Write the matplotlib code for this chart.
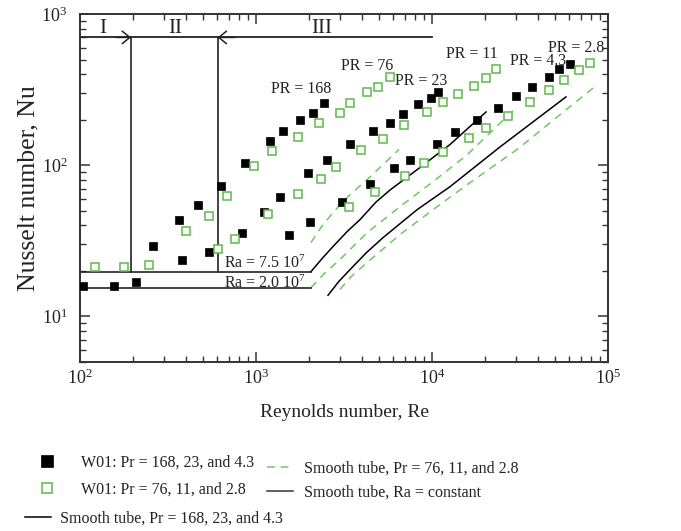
import matplotlib.pyplot as plt
from matplotlib.lines import Line2D

plt.rcParams['font.family'] = ['Liberation Serif', 'DejaVu Serif']
plt.rcParams['mathtext.fontset'] = 'custom'
plt.rcParams['mathtext.rm'] = 'Liberation Serif'
plt.rcParams['mathtext.it'] = 'Liberation Serif:italic'

# W01 measurements, filled squares
re_168 = [104, 156, 208, 260, 365, 468, 633, 866, 1201, 1422, 1778, 2109, 2432]
nu_168 = [15.8, 15.8, 17.0, 29.4, 43.7, 54.9, 73.2, 104, 145, 169, 200, 222, 259]
re_23 = [380, 541, 833, 1110, 1369, 1975, 2532, 3420, 4624, 5768, 6840, 8328, 9863, 10810]
nu_23 = [23.8, 26.5, 35.8, 49.3, 62.0, 89.2, 109, 139, 169, 191, 219, 255, 279, 305]
re_43 = [1540, 2028, 3083, 4446, 6083, 7499, 10670, 13520, 18020, 23710, 29990,
         36990, 46210, 52680, 60810]
nu_43 = [34.8, 42.4, 57.4, 75.5, 96.3, 109, 139, 166, 200, 240, 288, 330, 384, 434, 468]

# W01 measurements, open squares
re_76 = [122, 178, 247, 400, 541, 684, 975, 1233, 1732, 2280, 2999, 3420, 4276, 4933, 5768]
nu_76 = [21.1, 21.1, 22.0, 36.9, 46.4, 62.9, 99.2, 125, 154, 191, 222, 259, 305, 330, 384]
re_11 = [608, 760, 1170, 1732, 2339, 2848, 3951, 5268, 6934, 9368, 11550, 14060,
         17320, 20280, 23100]
nu_11 = [28.1, 32.7, 47.8, 64.8, 81.5, 97.7, 127, 150, 185, 225, 262, 296, 335, 378, 434]
re_28 = [3373, 4745, 7023, 9006, 11550, 16220, 20280, 27040, 36060, 46210, 56230,
         68390, 79120]
nu_28 = [53.2, 66.8, 85.3, 104, 123, 152, 177, 212, 262, 315, 367, 427, 475]

# smooth tube correlations
re_s23 = [2053, 2400, 2738, 3300, 3899, 4800, 5768, 8222, 12650, 20280]
nu_s23 = [19.8, 24.5, 29.0, 36.5, 43.7, 57.0, 68.5, 93.4, 137, 225]
re_s43 = [2565, 2950, 3420, 4250, 5268, 8222, 12650, 24320, 57690]
nu_s43 = [13.8, 17.0, 20.4, 26.5, 33.2, 50.8, 72.1, 132, 283]
re_s76 = [2053, 2350, 2738, 3400, 4276, 6494]
nu_s76 = [30.8, 39.0, 48.6, 63.5, 80.2, 127]
re_s11 = [2053, 2450, 2999, 4276, 6579, 10130, 15810, 30410]
nu_s11 = [15.5, 19.3, 23.8, 35.8, 53.2, 77.8, 117, 243]
re_s28 = [2999, 3500, 4276, 6579, 10130, 15810, 30410, 86600]
nu_s28 = [15.1, 18.5, 22.7, 34.8, 50.8, 74.3, 127, 340]

# constant Rayleigh number (laminar) lines
re_ra = [100, 2053]
nu_ra75 = [19.8, 19.8]
nu_ra20 = [15.4, 15.4]

# flow regime boundaries
re_bounds = [195, 605]
nu_bound_low, nu_bound_top = 19.8, 700
re_top = [100, 10000]
regimes = ['I', 'II', 'III']
re_regime_text = [135, 346, 2378]

pr_labels = ['PR = 168', 'PR = 76', 'PR = 23', 'PR = 11', 'PR = 4.3', 'PR = 2.8']
pr_re = [1802, 4276, 8660, 16760, 40000, 65800]
pr_nu = [320, 456, 361, 542, 490, 600]

green = '#5cb84c'
green_line = '#6ccb5c'
dark = '#222222'

fig = plt.figure(figsize=(6.81, 5.31), dpi=100)
ax = fig.add_axes([80 / 681, 1 - 362 / 531, 528 / 681, 348 / 531])
ax.set_xscale('log')
ax.set_yscale('log')

sq_black = dict(ls='none', marker='s', ms=6, mfc='black', mec='black', mew=0.5)
sq_green = dict(ls='none', marker='s', ms=5.6, mfc='white', mec=green, mew=1.1)
for re, nu in [(re_168, nu_168), (re_23, nu_23), (re_43, nu_43)]:
    ax.plot(re, nu, **sq_black, zorder=4)
for re, nu in [(re_76, nu_76), (re_11, nu_11), (re_28, nu_28)]:
    ax.plot(re, nu, **sq_green, zorder=4)

solid = dict(color='black', lw=1.1)
dashed = dict(color=green_line, lw=1.1, ls=(0, (5, 4)))
ax.plot(re_s23, nu_s23, **solid)
ax.plot(re_s43, nu_s43, **solid)
ax.plot(re_s76, nu_s76, **dashed)
ax.plot(re_s11, nu_s11, **dashed)
ax.plot(re_s28, nu_s28, **dashed)

ax.plot(re_ra, nu_ra75, color=dark, lw=1.2)
ax.plot(re_ra, nu_ra20, color=dark, lw=1.2)
ax.text(658, 22.4, r'Ra = 7.5 10$^{7}$', fontsize=11.5, color=dark, va='center')
ax.text(658, 16.5, r'Ra = 2.0 10$^{7}$', fontsize=11.5, color=dark, va='center')

for rb in re_bounds:
    ax.plot([rb, rb], [nu_bound_low, nu_bound_top], color='#333333', lw=1.3)
ax.plot(re_top, [nu_bound_top, nu_bound_top], color=dark, lw=1.3)
arrow = dict(arrowstyle='->,head_length=0.55,head_width=0.45', color=dark, lw=1.1,
             shrinkA=0, shrinkB=0, mutation_scale=10)
ax.annotate('', xy=(re_bounds[0], nu_bound_top), xytext=(160, nu_bound_top), arrowprops=arrow)
ax.annotate('', xy=(re_bounds[1], nu_bound_top), xytext=(760, nu_bound_top), arrowprops=arrow)
for name, xr in zip(regimes, re_regime_text):
    ax.text(xr, 808, name, fontsize=15, color=dark, ha='center', va='center')

for lab, xr, yn in zip(pr_labels, pr_re, pr_nu):
    ax.text(xr, yn, lab, fontsize=11.5, color=dark, ha='center', va='center')

ax.set_xlim(100, 1e5)
ax.set_ylim(5, 1000)
ax.tick_params(which='both', direction='in', top=True, right=True, colors='#333333',
               labelcolor=dark, labelsize=13)
ax.tick_params(which='major', length=7, width=1.1)
ax.tick_params(which='minor', length=4, width=1.0)
ax.tick_params(axis='x', pad=5)
ax.tick_params(axis='y', pad=9)
for s in ax.spines.values():
    s.set_color('#333333')
    s.set_linewidth(1.4)

ax.set_xlabel('Reynolds number, Re', fontsize=14, color=dark)
ax.set_ylabel('Nusselt number, Nu', fontsize=18.5, color=dark)
ax.xaxis.set_label_coords(0.5, -0.12)
ax.yaxis.set_label_coords(-0.076, 0.5)

fs = 11.5
sq_black_leg = dict(sq_black, ms=8)
sq_green_leg = dict(sq_green, ms=7.5)
leg1 = fig.legend([Line2D([], [], **sq_black_leg), Line2D([], [], **sq_green_leg)],
                  ['W01: Pr = 168, 23, and 4.3', 'W01: Pr = 76, 11, and 2.8'],
                  loc='center left', bbox_to_anchor=(39 / 681, 1 - 476 / 531),
                  frameon=False, fontsize=fs, borderpad=0, borderaxespad=0,
                  handlelength=1.0, handletextpad=1.6, labelspacing=0.65)
leg2 = fig.legend([Line2D([], [], **solid)], ['Smooth tube, Pr = 168, 23, and 4.3'],
                  loc='center left', bbox_to_anchor=(25 / 681, 1 - 519 / 531),
                  frameon=False, fontsize=fs, borderpad=0, borderaxespad=0,
                  handlelength=1.6, handletextpad=0.6)
leg3 = fig.legend([Line2D([], [], **dashed), Line2D([], [], color='#333333', lw=1.1)],
                  ['Smooth tube, Pr = 76, 11, and 2.8', 'Smooth tube, Ra = constant'],
                  loc='center left', bbox_to_anchor=(267 / 681, 1 - 481 / 531),
                  frameon=False, fontsize=fs, borderpad=0, borderaxespad=0,
                  handlelength=1.6, handletextpad=0.7, labelspacing=0.5)
for leg in (leg1, leg2, leg3):
    for t in leg.get_texts():
        t.set_color(dark)

fig.savefig('out.png', dpi=100)
